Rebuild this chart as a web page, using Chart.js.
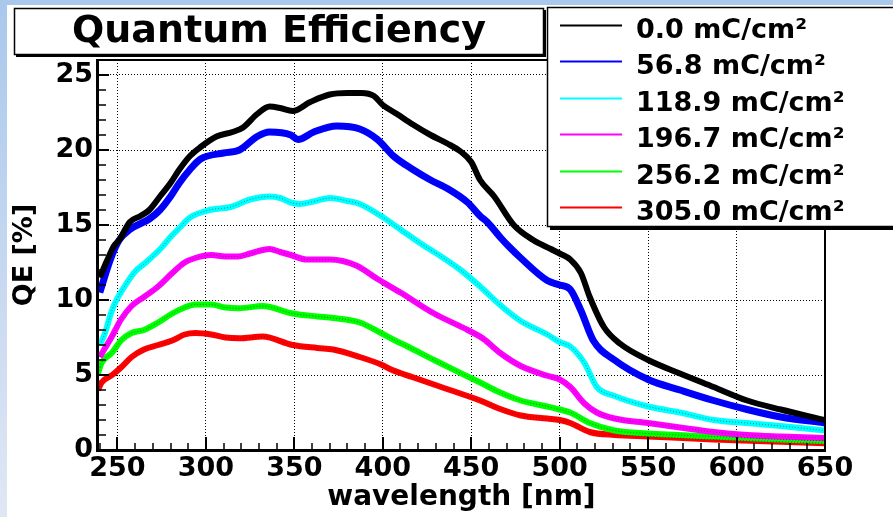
<!DOCTYPE html>
<html><head><meta charset="utf-8">
<script src="https://cdn.jsdelivr.net/npm/chart.js@4/dist/chart.umd.min.js"></script>
<style>html,body{margin:0;padding:0;background:#fff;overflow:hidden}canvas{display:block}</style>
</head><body>
<canvas id="c" width="893" height="517"></canvas>
<script>
// ---------- data ----------
const chartTitle = 'Quantum Efficiency';
const xAxisTitle = 'wavelength [nm]';
const yAxisTitle = 'QE [%]';
const xTickValues = [250, 300, 350, 400, 450, 500, 550, 600, 650];
const yTickValues = [0, 5, 10, 15, 20, 25];
const seriesLabels = ['0.0 mC/cm\u00B2', '56.8 mC/cm\u00B2', '118.9 mC/cm\u00B2', '196.7 mC/cm\u00B2', '256.2 mC/cm\u00B2', '305.0 mC/cm\u00B2'];
const seriesColors = ['#000000', '#0000ff', '#00ffff', '#ff00ff', '#00ff00', '#ff0000'];

const nm000 = [240, 244, 248, 251, 257, 263, 268, 274, 280, 285, 291, 297, 306, 315, 321, 329, 336, 342, 349, 359, 370, 380, 388, 395, 400, 408, 417, 427, 437, 444, 450, 455, 463, 474, 485, 495, 500, 506, 512, 517, 525, 534, 550, 568, 587, 606, 625, 650];
const qe000 = [11.5, 12.6, 13.6, 14.0, 15.2, 15.6, 16.0, 16.9, 17.8, 18.7, 19.6, 20.2, 20.9, 21.2, 21.5, 22.4, 22.9, 22.8, 22.6, 23.2, 23.7, 23.8, 23.8, 23.6, 23.0, 22.4, 21.7, 21.0, 20.4, 19.9, 19.2, 18.0, 16.9, 15.0, 14.0, 13.4, 13.1, 12.7, 11.8, 10.2, 8.2, 7.1, 6.0, 5.1, 4.2, 3.3, 2.7, 2.0];

const nm568 = [240, 246, 251, 257, 268, 274, 280, 285, 291, 297, 310, 319, 329, 336, 348, 352, 361, 374, 387, 397, 406, 417, 427, 437, 448, 455, 459, 467, 471, 478, 493, 500, 506, 512, 519, 531, 550, 568, 587, 606, 625, 650];
const qe568 = [10.5, 12.7, 14.0, 14.7, 15.4, 16.0, 16.9, 17.8, 18.7, 19.4, 19.8, 20.0, 20.9, 21.2, 21.0, 20.7, 21.2, 21.6, 21.4, 20.7, 19.6, 18.7, 18.0, 17.4, 16.5, 15.6, 15.2, 14.1, 13.6, 12.8, 11.3, 11.0, 10.7, 9.3, 7.3, 6.0, 4.7, 4.0, 3.3, 2.7, 2.2, 1.8];

const nm1189 = [240, 243, 246, 249, 254, 260, 266, 275, 280, 285, 291, 302, 314, 325, 336, 342, 348, 353, 362, 370, 380, 387, 399, 410, 421, 433, 444, 455, 466, 478, 493, 500, 506, 514, 521, 531, 550, 568, 587, 606, 625, 650];
const qe1189 = [7.0, 7.8, 9.0, 9.9, 10.9, 11.9, 12.5, 13.5, 14.2, 14.8, 15.5, 16.0, 16.2, 16.7, 16.9, 16.8, 16.5, 16.4, 16.6, 16.8, 16.6, 16.4, 15.6, 14.7, 13.8, 12.9, 12.0, 10.9, 9.7, 8.6, 7.7, 7.2, 6.9, 5.8, 4.2, 3.6, 2.9, 2.5, 2.0, 1.8, 1.6, 1.3];

const nm1967 = [240, 247, 252, 258, 265, 273, 281, 288, 294, 303, 311, 318, 325, 336, 342, 348, 357, 370, 385, 397, 410, 429, 448, 457, 466, 478, 493, 500, 506, 514, 521, 531, 550, 568, 587, 606, 625, 650];
const qe1967 = [6.2, 7.6, 8.7, 9.6, 10.2, 10.9, 11.8, 12.5, 12.8, 13.0, 12.9, 12.9, 13.1, 13.4, 13.2, 13.0, 12.7, 12.7, 12.3, 11.4, 10.5, 9.1, 8.0, 7.4, 6.5, 5.6, 4.95, 4.7, 4.2, 3.1, 2.5, 2.1, 1.8, 1.5, 1.2, 1.0, 0.9, 0.8];

const nm2562 = [239, 241, 247, 252, 258, 265, 273, 281, 288, 294, 303, 311, 319, 332, 349, 363, 372, 387, 399, 407, 414, 429, 448, 455, 466, 478, 493, 500, 506, 517, 531, 550, 587, 625, 650];
const qe2562 = [5.1, 5.8, 6.5, 7.3, 7.8, 8.0, 8.5, 9.1, 9.5, 9.7, 9.7, 9.5, 9.45, 9.6, 9.1, 8.9, 8.8, 8.5, 7.8, 7.3, 6.9, 6.0, 4.9, 4.5, 3.85, 3.3, 2.9, 2.7, 2.5, 1.8, 1.3, 1.1, 0.9, 0.7, 0.6];

const nm3050 = [239, 241, 247, 252, 258, 265, 273, 281, 288, 294, 303, 311, 319, 332, 349, 363, 372, 387, 399, 405, 417, 433, 448, 455, 466, 478, 493, 500, 506, 517, 531, 550, 587, 625, 650];
const qe3050 = [4.0, 4.5, 5.0, 5.5, 6.2, 6.7, 7.0, 7.3, 7.7, 7.8, 7.7, 7.5, 7.45, 7.56, 7.0, 6.8, 6.7, 6.2, 5.7, 5.35, 4.85, 4.2, 3.6, 3.3, 2.75, 2.3, 2.1, 2.0, 1.8, 1.2, 1.0, 0.9, 0.7, 0.55, 0.45];

const seriesNm = [nm000, nm568, nm1189, nm1967, nm2562, nm3050];
const seriesQE = [qe000, qe568, qe1189, qe1967, qe2562, qe3050];

// ---------- chart ----------
const FONT = "'DejaVu Sans', sans-serif";
const lineWidths = [6, 7, 6, 6, 6, 6];

const mainSets = seriesLabels.map((lab, k) => ({
  label: lab,
  data: seriesNm[k].map((n, i) => ({x: n, y: seriesQE[k][i]})),
  borderColor: seriesColors[k],
  backgroundColor: seriesColors[k],
  borderWidth: lineWidths[k],
  pointRadius: 0,
  fill: false,
  cubicInterpolationMode: 'monotone',
  order: 0
}));
const dotSets = seriesLabels.slice(1).map((lab, j) => ({
  label: '_dots' + j,
  data: seriesNm[j + 1].map((n, i) => ({x: n, y: seriesQE[j + 1][i]})),
  borderColor: 'rgba(0,0,0,0.45)',
  borderWidth: 1,
  borderDash: [1, 2],
  pointRadius: 0,
  fill: false,
  cubicInterpolationMode: 'monotone',
  order: -1
}));

const bgPlugin = {
  id: 'bg',
  beforeDraw(chart) {
    const {ctx, width, height} = chart;
    ctx.save();
    ctx.fillStyle = '#ffffff';
    ctx.fillRect(0, 0, width, height);
    const g = ctx.createLinearGradient(0, 0, 0, height);
    g.addColorStop(0, '#a9c8ec');
    g.addColorStop(1, '#e0e7f4');
    ctx.fillStyle = g;
    ctx.fillRect(0, 0, 7, height);
    ctx.fillStyle = '#aac8ec';
    ctx.fillRect(0, 0, width, 5);
    ctx.restore();
  }
};

const framePlugin = {
  id: 'frame',
  afterDatasetsDraw(chart) {
    const {ctx, chartArea: a, scales: {x, y}} = chart;
    ctx.save();
    ctx.strokeStyle = '#000';
    ctx.lineWidth = 1.5;
    ctx.beginPath();
    for (let v = 240; v < x.max; v += 10) {
      if (xTickValues.includes(v)) continue;
      const px = Math.round(x.getPixelForValue(v));
      ctx.moveTo(px, a.bottom); ctx.lineTo(px, a.bottom - 7);
    }
    for (let v = 1; v < y.max; v += 1) {
      if (yTickValues.includes(v)) continue;
      const py = Math.round(y.getPixelForValue(v));
      ctx.moveTo(a.left, py); ctx.lineTo(a.left + 8, py);
    }
    ctx.stroke();
    ctx.lineWidth = 2;
    ctx.beginPath();
    xTickValues.forEach(v => {
      const px = Math.round(x.getPixelForValue(v));
      ctx.moveTo(px, a.bottom); ctx.lineTo(px, a.bottom - 13);
    });
    yTickValues.forEach(v => {
      const py = Math.round(y.getPixelForValue(v));
      ctx.moveTo(a.left, py); ctx.lineTo(a.left + 11, py);
    });
    ctx.stroke();
    ctx.lineWidth = 2;
    ctx.strokeRect(a.left, a.top, a.right - a.left, a.bottom - a.top);
    ctx.fillStyle = '#000';
    ctx.fillRect(a.left - 2, a.top - 1, 3, a.bottom - a.top + 2);
    ctx.fillRect(a.left - 2, a.bottom - 1, a.right - a.left + 3, 3);
    ctx.restore();
  },
  afterDraw(chart) {
    const {ctx} = chart;
    ctx.save();
    const tx0 = 14, ty0 = 8, tx1 = 544, ty1 = 55;
    ctx.fillStyle = '#000';
    ctx.fillRect(tx0 + 2, ty0 + 2, tx1 - tx0, ty1 - ty0);
    ctx.fillStyle = '#fff';
    ctx.fillRect(tx0, ty0, tx1 - tx0, ty1 - ty0);
    ctx.strokeStyle = '#000';
    ctx.lineWidth = 1.5;
    ctx.strokeRect(tx0 + 0.5, ty0 + 0.5, tx1 - tx0 - 1, ty1 - ty0 - 1);
    ctx.fillStyle = '#000';
    ctx.font = 'bold 38px ' + FONT;
    ctx.textAlign = 'center';
    ctx.textBaseline = 'alphabetic';
    ctx.fillText(chartTitle, (tx0 + tx1) / 2, 42);
    const lx0 = 547, ly0 = 7, lx1 = 905, ly1 = 227;
    ctx.fillStyle = '#000';
    ctx.fillRect(lx0 + 3, ly0 + 3, lx1 - lx0, ly1 - ly0);
    ctx.fillStyle = '#fff';
    ctx.fillRect(lx0, ly0, lx1 - lx0, ly1 - ly0);
    ctx.lineWidth = 1.5;
    ctx.strokeRect(lx0 + 0.5, ly0 + 0.5, lx1 - lx0 - 1, ly1 - ly0 - 1);
    ctx.font = 'bold 27px ' + FONT;
    ctx.textAlign = 'left';
    seriesLabels.forEach((lab, k) => {
      const ly = 25 + k * 36.4;
      ctx.strokeStyle = seriesColors[k];
      ctx.lineWidth = 2;
      ctx.beginPath();
      ctx.moveTo(560, Math.round(ly) + 0.5); ctx.lineTo(622, Math.round(ly) + 0.5);
      ctx.stroke();
      ctx.fillStyle = '#000';
      ctx.fillText(lab, 636, ly + 13);
    });
    ctx.restore();
  }
};

new Chart(document.getElementById('c'), {
  type: 'line',
  data: {datasets: mainSets.concat(dotSets)},
  plugins: [bgPlugin, framePlugin],
  options: {
    responsive: false,
    animation: false,
    devicePixelRatio: 1,
    events: [],
    layout: {padding: {top: 60, right: 68, left: 0, bottom: 0}},
    plugins: {legend: {display: false}, title: {display: false}, tooltip: {enabled: false}},
    scales: {
      x: {
        type: 'linear',
        min: 239, max: 650,
        afterBuildTicks(s) { s.ticks = xTickValues.map(v => ({value: v})); },
        afterFit(s) { s.height = 67; },
        grid: {
          drawTicks: false,
          color: c => (c.tick && (c.tick.value === 650)) ? 'rgba(0,0,0,0)' : '#000',
          lineWidth: 1
        },
        border: {display: false, dash: [1, 2]},
        ticks: {color: '#000', padding: 3, font: {family: FONT, size: 27, weight: 'bold'}, maxRotation: 0, autoSkip: false},
        title: {display: true, text: xAxisTitle, color: '#000', font: {family: FONT, size: 28, weight: 'bold'}, padding: {top: 0, bottom: 2}}
      },
      y: {
        type: 'linear',
        min: 0, max: 26,
        afterBuildTicks(s) { s.ticks = yTickValues.map(v => ({value: v})); },
        afterFit(s) { s.width = 98; },
        grid: {
          drawTicks: false,
          color: c => (c.tick && (c.tick.value === 0)) ? 'rgba(0,0,0,0)' : '#000',
          lineWidth: 1
        },
        border: {display: false, dash: [1, 2]},
        ticks: {color: '#000', padding: 5, font: {family: FONT, size: 27, weight: 'bold'}, autoSkip: false},
        title: {display: true, text: yAxisTitle, color: '#000', font: {family: FONT, size: 27, weight: 'bold'}, padding: {top: 9, bottom: 0}}
      }
    }
  }
});
</script>
</body></html>
